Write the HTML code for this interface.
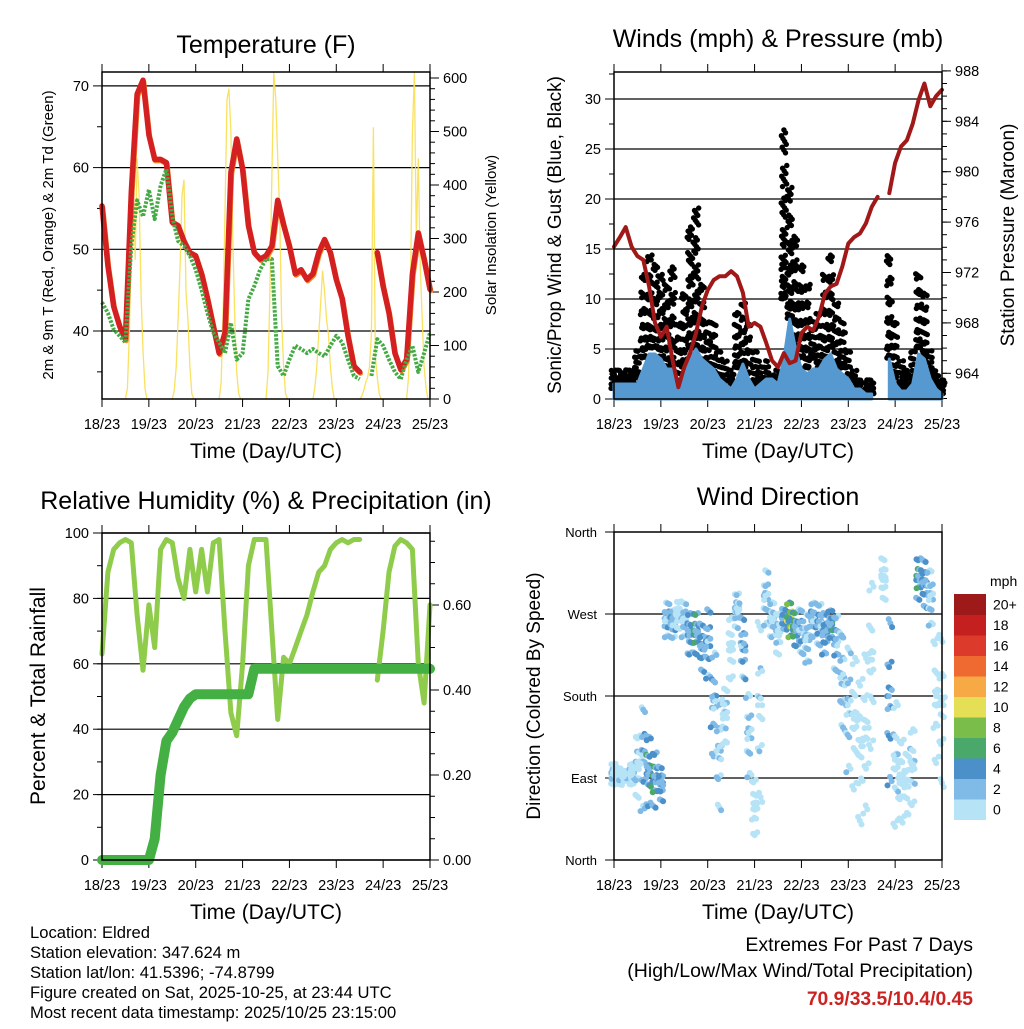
<!DOCTYPE html>
<html><head><meta charset="utf-8"><style>
html,body{margin:0;padding:0;background:#fff;}
svg text{font-family:"Liberation Sans",Arial,sans-serif;fill:#000;}
</style></head><body>
<svg id="s" width="1024" height="1024" viewBox="0 0 1024 1024" xmlns="http://www.w3.org/2000/svg">
<rect width="1024" height="1024" fill="#fff"/>
<g id="g1"></g>
<g id="g2"></g>
<g id="g3"></g>
<g id="g4"></g>
<g id="foot">
<text x="30" y="938" font-size="16.6">Location: Eldred</text>
<text x="30" y="958" font-size="16.6">Station elevation: 347.624 m</text>
<text x="30" y="978" font-size="16.6">Station lat/lon: 41.5396; -74.8799</text>
<text x="30" y="998" font-size="16.6">Figure created on Sat, 2025-10-25, at 23:44 UTC</text>
<text x="30" y="1018" font-size="16.6">Most recent data timestamp: 2025/10/25 23:15:00</text>
<text x="973" y="951" font-size="19.5" text-anchor="end">Extremes For Past 7 Days</text>
<text x="973" y="977" font-size="19.5" text-anchor="end">(High/Low/Max Wind/Total Precipitation)</text>
<text x="973" y="1005" font-size="19.3" font-weight="bold" text-anchor="end" style="fill:#cc2222">70.9/33.5/10.4/0.45</text>
</g>
</svg>
<script>
// ---- data (3-hourly, hour 0 = 18/23 UTC) ----
const dayLabels = ["18/23","19/23","20/23","21/23","22/23","23/23","24/23","25/23"];
const temp = [55.3,48,43,40.6,39,57,69,70.7,64,61,61,60.6,53.3,52.9,51,49.6,49.2,47,44,40.6,37.3,39.8,59.4,63.5,59.8,52.9,49.6,48.8,49.2,50.4,56,53,50.4,47,47.5,46.3,47,49.6,51.2,49.6,46.3,44,39.4,35.7,35,null,null,49.6,45.5,42.2,37.3,35.3,36.5,47,52,48.8,45.1];
const dew = [43.5,42.2,40.2,39.4,38.6,50.4,56,54,57.3,53.7,57.8,59.8,54,51,50.4,49.2,47.5,45,42.2,39.8,38.6,37.3,41,36.5,37.3,43.9,45.5,47.5,48.8,48.8,35.7,34.5,36.5,38.2,37.8,37.3,37.8,37.3,36.9,38.2,39.4,38.6,36.5,34.5,34.1,null,34.5,39,38.2,36.5,35,34.1,36.5,38.2,35,37.3,39.8];
const solarDays = [
 [0,20,120,300,420,260,450,380,200,90,20,0],
 [0,15,60,150,250,380,410,200,150,60,10,0],
 [0,30,150,350,560,580,500,300,150,50,10,0],
 [0,50,200,420,610,560,450,350,150,60,10,0],
 [0,20,60,120,180,240,200,150,120,60,20,0],
 [0,5,15,30,40,60,120,508,80,40,10,0],
 [0,40,200,500,610,300,450,250,150,60,20,0]];
const windSpd = [1.5,1.5,1.5,1.5,1.5,3,4.5,4.5,4,3,3,1,2,4,5,4,3.5,3,2,1.5,1,2,3.5,2,1,1.5,2,2,1.5,4,8,5,3,2.5,3,3,4,4.5,3,2.5,2,1,1,0.5,0.5,null,null,4,1.5,0.8,0.8,1.5,4.5,4,2,1,0.5];
const gustLo = [1,1,1.5,1.5,2,4,5,5,4,3,1,1,3,5,5,3,3,2,1,0.5,1,3,3,1,1,1,1,1,1,10,8,5,4,3,4,3,4,5,3,3,1,0.5,0.5,0.5,0.5,null,null,4,2,1,1,1.5,5,4,2,0.5,0.5];
const gustHi = [3,3,3,3,5,13,15,14,13,12,14,8,11,18,20,12,8,8,5,4,3,9,10,8,5,4,4,2.5,3,28,22,17,14,12,8,9,13,15,10,8,5,3,2,2,2,null,null,15,8,4,3,5,13,11,5,3,2];
const pressure = [974.05,974.8,975.6,974.05,973.3,973,970.9,968,966.9,967.7,965,962.9,964.5,965.6,967.2,969.3,970.6,971.4,971.7,971.7,972.1,971.7,970.4,967.7,968,967.7,966.4,965,964.5,965.6,964.8,965,967.2,967.7,967.4,968.5,970.3,970.9,971.1,972.5,974.3,974.8,975.1,975.9,977.2,978,null,978.3,980.7,982,982.5,983.8,985.7,987,985.2,986,986.5];
const rh = [63,88,95,97,98,97,75,58,78,65,95,98,97,86,80,95,82,95,82,97,98,70,45,38,60,90,98,98,98,70,43,62,60,65,70,75,82,88,90,95,97,98,97,98,98,null,null,55,70,88,96,98,97,95,60,48,78];
const precip = [0,0,0,0,0,0,0,0,0,0.05,0.2,0.28,0.30,0.33,0.36,0.38,0.39,0.39,0.39,0.39,0.39,0.39,0.39,0.39,0.39,0.39,0.45,0.45,0.45,0.45,0.45,0.45,0.45,0.45,0.45,0.45,0.45,0.45,0.45,0.45,0.45,0.45,0.45,0.45,0.45,0.45,0.45,0.45,0.45,0.45,0.45,0.45,0.45,0.45,0.45,0.45,0.45];
const dirLo = [80,80,85,80,60,40,50,50,60,240,240,250,240,220,220,200,190,100,40,120,190,250,190,80,20,40,250,240,220,250,240,230,220,210,240,230,220,240,200,130,80,60,20,30,100,null,280,60,20,30,40,50,280,270,250,90,60];
const dirHi = [110,105,100,110,150,190,150,130,110,290,280,290,290,280,280,270,290,250,200,200,280,300,280,200,100,300,330,290,280,280,290,280,285,280,290,290,280,280,280,270,260,250,230,260,340,null,340,300,200,150,130,160,340,340,330,270,280];
const speedBins = ["0","2","4","6","8","10","12","14","16","18","20+"];
const binColors = ["#b7e3f7","#80bae6","#4b90c9","#4aa86a","#7bbd4a","#e5df55","#f6a944","#ee6a30","#dc3a2a","#c4201f","#9e1a1a"];

const NS="http://www.w3.org/2000/svg";
function mk(parent,tag,attrs,txt){const e=document.createElementNS(NS,tag);for(const k in attrs)e.setAttribute(k,attrs[k]);if(txt!==undefined)e.textContent=txt;parent.appendChild(e);return e;}
const HOURS = temp.map((_,i)=>i*3);

function panel(g,x0,x1,y0,y1,xt){
  const xs=h=>x0+h/168*(x1-x0);
  dayLabels.forEach((lab,i)=>{
    const x=xs(i*24);
    const t1=mk(g,'line',{x1:x,x2:x,y1:y1,y2:y1+8,stroke:'#000','stroke-width':1});
    
    
    const t2=mk(g,'line',{x1:x,x2:x,y1:y0,y2:y0-8,stroke:'#000','stroke-width':1});
    
    
    const tl=mk(g,'text',{x:x,y:y1+30,'font-size':14.5,'text-anchor':'middle'},lab);
    
    
  });
  const tt=mk(g,'text',{x:(x0+x1)/2,y:y1+59,'font-size':21,'text-anchor':'middle'},xt);
  
  
  return xs;
}
function box(g,x0,x1,y0,y1){
  const r=mk(g,'rect',{x:x0,y:y0,width:x1-x0,height:y1-y0,fill:'none',stroke:'#000','stroke-width':1.5});
  
  
}
function yaxis(g,x,side,vals,minor,ys,fmt,grid,x0,x1,fs){
  minor.forEach(v=>{const y=ys(v);const l=mk(g,'line',{x1:x,x2:x+side*5,y1:y,y2:y,stroke:'#000'});
    
    });
  vals.forEach(v=>{const y=ys(v);
    const l=mk(g,'line',{x1:x,x2:x+side*9,y1:y,y2:y,stroke:'#000'});
    
    
    if(grid){const gl=mk(g,'line',{x1:x0,x2:x1,y1:y,y2:y,stroke:'#000','stroke-width':1.2});
      
      }
    const t=mk(g,'text',{x:x+side*13,y:y+5,'font-size':fs||14.5,'text-anchor':side<0?'end':'start'},fmt(v));
    
    });
}
function vtitle(g,x,y,txt,fs,name){
  const t=mk(g,'text',{x:x,y:y,'font-size':fs,'text-anchor':'middle',transform:`rotate(-90 ${x} ${y})`},txt);
  
  
}
function title(g,x,y,txt){const t=mk(g,'text',{x:x,y:y,'font-size':25,'text-anchor':'middle'},txt);
  
  }
function pathOf(arr,xs,ys){let d='',pen=false;arr.forEach((v,i)=>{if(v===null){pen=false;return;}d+=(pen?'L':'M')+xs(HOURS[i]).toFixed(1)+','+ys(v).toFixed(1);pen=true;});return d;}
function range(a,b,s){const r=[];for(let v=a;v<=b+1e-9;v+=s)r.push(+v.toFixed(3));return r;}

// ---- Panel 1: temperature ----
(function(){
  const g=document.getElementById('g1');
  const x0=102,x1=430,y0=72,y1=399;
  const yT=v=>331-(v-40)*8.17, yS=v=>399-v*0.535;
  title(g,266,53,'Temperature (F)');
  yaxis(g,x0,-1,[40,50,60,70],[35,45,55,65],yT,v=>v,true,x0,x1);
  yaxis(g,x1,1,range(0,600,100),range(0,600,20),yS,v=>v,false);
  const xs=panel(g,x0,x1,y0,y1,'Time (Day/UTC)');
  let d='';
  solarDays.forEach((arr,di)=>{arr.forEach((v,i)=>{const h=di*24+12+i;d+=(i?'L':'M')+xs(h).toFixed(1)+','+yS(v).toFixed(1);});});
  const sp=mk(g,'path',{d:d,fill:'none',stroke:'#f8de50','stroke-width':1.3,opacity:0.9});
  
  
  const o=mk(g,'path',{d:pathOf(temp,h=>xs(h)+0.8,v=>yT(v)+1.5),fill:'none',stroke:'#f08a2a','stroke-width':5,'stroke-linejoin':'round','stroke-linecap':'round'});
  
  
  const r=mk(g,'path',{d:pathOf(temp,xs,yT),fill:'none',stroke:'#d42020','stroke-width':5.5,'stroke-linejoin':'round','stroke-linecap':'round'});
  
  
  const gr=mk(g,'path',{d:pathOf(dew,xs,yT),fill:'none',stroke:'#44aa44','stroke-width':4,'stroke-dasharray':'2.5 1.5','stroke-linejoin':'round'});
  
  
  box(g,x0,x1,y0,y1);
  vtitle(g,53,235,'2m & 9m T (Red, Orange) & 2m Td (Green)',15,'y-axis-title-left');
  vtitle(g,496,235,'Solar Insolation (Yellow)',15,'y-axis-title-right');
})();

// ---- Panel 2: winds & pressure ----
(function(){
  const g=document.getElementById('g2');
  const x0=614,x1=942,y0=72,y1=399;
  const yW=v=>399-v*10, yP=v=>373.3-(v-964)*12.6;
  title(g,778,47,'Winds (mph) & Pressure (mb)');
  yaxis(g,x0,-1,range(0,30,5),range(0,32.5,2.5),yW,v=>v,true,x0,x1);
  yaxis(g,x1,1,range(964,988,4),range(962,988,1),yP,v=>v,false);
  const xs=panel(g,x0,x1,y0,y1,'Time (Day/UTC)');
  gustLo.forEach((lo,i)=>{
    const hi=gustHi[i]; if(lo===null||hi===null) return;
    const n=Math.round((hi-lo)*3)+10;
    for(let j=0;j<n;j++){
      const fx=(j*0.7548777+i*0.37)%1, fy=Math.pow((j*0.5698403+0.11)%1,1.5);
      const c=mk(g,'circle',{cx:xs(HOURS[i]-1.5+fx*3).toFixed(1),cy:yW(lo+(hi-lo)*fy).toFixed(1),r:2.7,fill:'#000'});
      
      
    }
  });
  let d='';
  const segs=[];let cur=[];
  windSpd.forEach((v,i)=>{if(v===null){if(cur.length)segs.push(cur);cur=[];return;}cur.push([xs(HOURS[i]),yW(v)]);});
  if(cur.length)segs.push(cur);
  segs.forEach(s=>{d+='M'+s[0][0]+','+yW(0)+s.map(p=>'L'+p[0].toFixed(1)+','+p[1].toFixed(1)).join('')+'L'+s[s.length-1][0]+','+yW(0)+'Z';});
  const wa=mk(g,'path',{d:d,fill:'#5599d0',stroke:'#5599d0','stroke-width':3,'stroke-linejoin':'round'});
  
  
  const pl=mk(g,'path',{d:pathOf(pressure,xs,yP),fill:'none',stroke:'#a01818','stroke-width':4,'stroke-linejoin':'round','stroke-linecap':'round'});
  
  
  box(g,x0,x1,y0,y1);
  vtitle(g,561,235,'Sonic/Prop Wind & Gust (Blue, Black)',19,'y-axis-title-left');
  vtitle(g,1014,235,'Station Pressure (Maroon)',19,'y-axis-title-right');
})();

// ---- Panel 3: RH & precip ----
(function(){
  const g=document.getElementById('g3');
  const x0=102,x1=430,y0=533,y1=860;
  const yR=v=>860-v*3.27, yPr=v=>860-v*425;
  title(g,266,509,'Relative Humidity (%) & Precipitation (in)');
  yaxis(g,x0,-1,range(0,100,20),range(0,100,10),yR,v=>v,true,x0,x1);
  yaxis(g,x1,1,[0,0.2,0.4,0.6],range(0,0.75,0.05),yPr,v=>v.toFixed(2),false);
  const xs=panel(g,x0,x1,y0,y1,'Time (Day/UTC)');
  const r=mk(g,'path',{d:pathOf(rh,xs,yR),fill:'none',stroke:'#8fcc4c','stroke-width':5,'stroke-linejoin':'round','stroke-linecap':'round'});
  
  
  const p=mk(g,'path',{d:pathOf(precip,xs,yPr),fill:'none',stroke:'#44b044','stroke-width':10,'stroke-linejoin':'round','stroke-linecap':'round'});
  
  
  box(g,x0,x1,y0,y1);
  vtitle(g,45,696,'Percent & Total Rainfall',21,'y-axis-title-left');
})();

// ---- Panel 4: wind direction ----
(function(){
  const g=document.getElementById('g4');
  const x0=614,x1=942,y0=532,y1=860;
  const yD=v=>860-v/360*328;
  title(g,778,505,'Wind Direction');
  const names=['North','East','South','West','North'];
  [0,90,180,270,360].forEach((v,i)=>{
    const y=yD(v);
    const l=mk(g,'line',{x1:x0,x2:x0-9,y1:y,y2:y,stroke:'#000'});
    
    
    if(v>0&&v<360){const gl=mk(g,'line',{x1:x0,x2:x1,y1:y,y2:y,stroke:'#000','stroke-width':1.2});
      
      }
    const t=mk(g,'text',{x:597,y:y+5,'font-size':13,'text-anchor':'end'},names[i]);
    
    
  });
  const xs=panel(g,x0,x1,y0,y1,'Time (Day/UTC)');
  dirLo.forEach((lo,i)=>{
    const hi=dirHi[i]; if(lo===null||hi===null) return;
    const base=windSpd[i]===null?1:windSpd[i];
    const n=20;
    for(let j=0;j<n;j++){
      const fx=(j*0.7548777+i*0.29)%1, u=(j*0.5698403+0.07)%1;
      const fy=0.5+(u-0.5)*Math.abs(2*u-1);
      const spd=base*(0.5+1.0*((j*0.618034)%1));
      const bin=Math.min(10,Math.max(0,Math.floor(spd/2)));
      const c=mk(g,'circle',{cx:xs(HOURS[i]-1.5+fx*3).toFixed(1),cy:yD(lo+(hi-lo)*fy).toFixed(1),r:3,fill:binColors[bin]});
      
      
    }
  });
  box(g,x0,x1,y0,y1);
  vtitle(g,540,696,'Direction (Colored By Speed)',19,'y-axis-title-left');
  const cbT=594,cbH=20.5;
  const ct=mk(g,'text',{x:990,y:586,'font-size':14},'mph');
  
  
  speedBins.forEach((lab,i)=>{
    const k=10-i, y=cbT+k*cbH;
    const r=mk(g,'rect',{x:954,y:y,width:32,height:cbH+0.5,fill:binColors[i]});
    
    
    const t=mk(g,'text',{x:993,y:y+cbH/2+5,'font-size':14},lab);
    
    
  });
})();
</script>
</body></html>
